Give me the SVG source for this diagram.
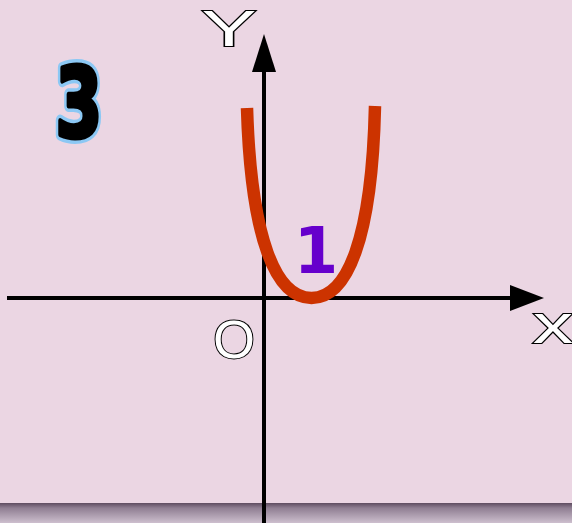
<svg xmlns="http://www.w3.org/2000/svg" width="572" height="523" viewBox="0 0 572 523">
<defs>
<linearGradient id="strip" x1="0" y1="0" x2="0" y2="1">
<stop offset="0" stop-color="#5e4c60"/>
<stop offset="0.25" stop-color="#8f7e92"/>
<stop offset="1" stop-color="#cdbfce"/>
</linearGradient>
<style>
.axis{stroke:#000;stroke-width:4;fill:none}
.lbl{font-family:"Liberation Sans",Arial,sans-serif;fill:#fff;stroke:#000;stroke-width:2;paint-order:stroke}
.three{font-family:"DejaVu Sans",sans-serif;font-weight:bold;font-size:96px;text-anchor:middle}
</style>
</defs>
<rect width="572" height="523" fill="#ebd6e3"/>
<rect x="0" y="503" width="572" height="20" fill="url(#strip)"/>
<g id="axes">
<line class="axis" x1="7" y1="298" x2="512" y2="298"/>
<polygon points="510,285 544,298 510,311" fill="#000"/>
<line class="axis" x1="264" y1="523" x2="264" y2="70"/>
<polygon points="252,72 264,34 276,72" fill="#000"/>
</g>
<g id="curve">
<path d="M247,108 C251,240 276,298 311.5,298 C347,298 372,240 375,106" fill="none" stroke="#cc3300" stroke-width="12.5"/>
</g>
<g id="labels">
<text class="lbl" transform="translate(229,46) scale(1.65,1)" font-size="50" text-anchor="middle">Y</text>
<text class="lbl" x="234" y="358" font-size="54" text-anchor="middle">O</text>
<text class="lbl" transform="translate(553,343) scale(1.45,1)" font-size="56" text-anchor="middle">x</text>
<text x="316" y="273" font-family="DejaVu Sans,sans-serif" font-weight="bold" font-size="64" fill="#6600cc" text-anchor="middle">1</text>
<g id="num3" transform="translate(79,137) scale(0.7,1)">
<text class="three" fill="#8cc8f4" stroke="#8cc8f4" stroke-width="12" stroke-linejoin="round">3</text>
<text class="three" fill="#000" stroke="#000" stroke-width="5" stroke-linejoin="round">3</text>
</g>
</g>
</svg>
